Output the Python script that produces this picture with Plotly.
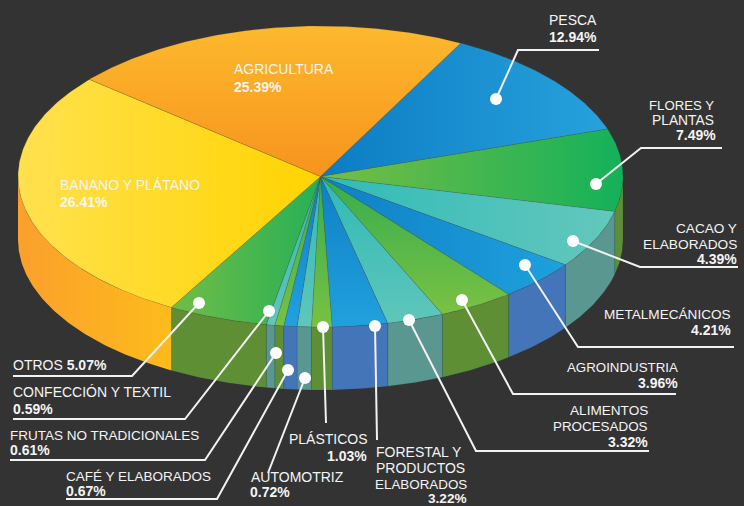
import numpy as np
import plotly.graph_objects as go

# Export shares by sector, clockwise from the top right of the pie
categories = ["PESCA", "FLORES Y PLANTAS", "CACAO Y ELABORADOS", "METALMECÁNICOS",
              "AGROINDUSTRIA", "ALIMENTOS PROCESADOS", "FORESTAL Y PRODUCTOS ELABORADOS",
              "PLÁSTICOS", "AUTOMOTRIZ", "CAFÉ Y ELABORADOS", "FRUTAS NO TRADICIONALES",
              "CONFECCIÓN Y TEXTIL", "OTROS", "BANANO Y PLÁTANO", "AGRICULTURA"]
shares = [12.94, 7.49, 4.39, 4.21, 3.96, 3.32, 3.22, 1.03, 0.72, 0.67, 0.61, 0.59, 5.07, 26.41, 25.39]

# Disc geometry in pixel-like axis units
CX, CY, RX, RY, DEPTH = 320.5, 176.5, 302.5, 150.5, 63
START_ANGLE = 27.6

# The disc is drawn with a tilted look: rim angles drift from the true sweep
TILT_KNOTS = [0, 47, 74, 89, 119, 142, 151, 155.4, 174, 269, 360]
TILT_SHIFT = [0, -2.6, 2.4, 9, 9.9, 7.9, 8.4, 7.4, 8.4, 14, 0]

BLUE = ("#0f7fc5", "#20a1dd")
TEAL = ("#2fb9b6", "#60c6bb")
GREEN = ("#34ad4f", "#78c143")
WALL_BLUE, WALL_TEAL, WALL_GREEN = "#4475b8", "#5a9790", "#5e8f35"

# (gradient direction, colour at start, colour at stop, start, stop)
top_styles = [
    ("horizontal", "#0c7cc3", "#27a2dd", 320, 610),
    ("horizontal", "#79bd43", "#14b15a", 320, 622),
    ("horizontal", "#30bbb8", "#63c7bc", 320, 610),
    ("horizontal", "#0f7fc5", "#1ea0dd", 320, 560),
    ("vertical", "#34ad4f", "#78c143", 176, 310),
    ("vertical", "#2fb9b6", "#5ec6bb", 176, 322),
    ("vertical", *BLUE, 176, 326),
    ("vertical", *GREEN, 176, 326),
    ("vertical", *TEAL, 176, 326),
    ("vertical", *BLUE, 176, 326),
    ("vertical", *GREEN, 176, 326),
    ("vertical", *TEAL, 176, 326),
    ("horizontal", "#72bd45", "#26b057", 171, 320),
    ("horizontal", "#ffe14f", "#ffd400", 18, 320),
    ("vertical", "#fdb92d", "#f7931e", 26, 176),
]
wall_styles = [WALL_BLUE, WALL_GREEN, WALL_TEAL, WALL_BLUE, WALL_GREEN, WALL_TEAL, WALL_BLUE,
               WALL_GREEN, WALL_TEAL, WALL_BLUE, WALL_GREEN, WALL_TEAL, WALL_GREEN, None, None]

# Callout paths: dot first, then the line's corner and end
leaders = [
    [(496, 99), (518, 50), (599, 50)],
    [(596, 184), (641, 148), (722, 148)],
    [(573, 241), (640, 267), (738, 267)],
    [(525, 265), (578, 347), (734, 347)],
    [(462, 300), (513, 394), (676, 394)],
    [(409, 320), (476, 451), (649, 451)],
    [(375, 326), (377, 440)],
    [(323, 327), (326, 423)],
    [(305, 378), (268, 473)],
    [(288, 370), (217, 499), (66, 499)],
    [(276, 353), (205, 460), (10, 460)],
    [(269, 311), (185, 419), (13, 419)],
    [(199, 303), (132, 376), (13, 376)],
]

# Text rows: (text, x, y, anchor, font size)
text_rows = [
    ("PESCA", 597, 20, "right", 14), ("<b>12.94%</b>", 597, 37, "right", 14),
    ("FLORES Y", 714, 105, "right", 13.2), ("PLANTAS", 714, 120, "right", 13.8), ("<b>7.49%</b>", 716, 135, "right", 14),
    ("CACAO Y", 737, 228, "right", 13.6), ("ELABORADOS", 737, 244, "right", 13.7), ("<b>4.39%</b>", 737, 259, "right", 14),
    ("METALMECÁNICOS", 731, 314, "right", 13.6), ("<b>4.21%</b>", 731, 330, "right", 14),
    ("AGROINDUSTRIA", 678, 367, "right", 13.3), ("<b>3.96%</b>", 678, 383, "right", 14),
    ("ALIMENTOS", 648, 410, "right", 13.6), ("PROCESADOS", 648, 426, "right", 13.4), ("<b>3.32%</b>", 648, 442, "right", 14),
    ("FORESTAL Y", 376, 452, "left", 14), ("PRODUCTOS", 376, 468, "left", 14), ("ELABORADOS", 375, 484, "left", 13.4),
    ("<b>3.22%</b>", 467, 498, "right", 13.6),
    ("PLÁSTICOS", 289, 439, "left", 14), ("<b>1.03%</b>", 367, 456, "right", 14),
    ("AUTOMOTRIZ", 251, 477, "left", 14), ("<b>0.72%</b>", 250, 492, "left", 14),
    ("CAFÉ Y ELABORADOS", 66, 476, "left", 13.5), ("<b>0.67%</b>", 66, 491, "left", 14),
    ("FRUTAS NO TRADICIONALES", 10, 435, "left", 13.5), ("<b>0.61%</b>", 10, 450, "left", 14),
    ("CONFECCIÓN Y TEXTIL", 13, 392, "left", 14), ("<b>0.59%</b>", 13, 409, "left", 14),
    ("OTROS <b>5.07%</b>", 13, 365, "left", 14),
    ("BANANO Y PLÁTANO", 60, 185, "left", 14), ("<b>26.41%</b>", 60, 202, "left", 14),
    ("AGRICULTURA", 234, 69, "left", 14), ("<b>25.39%</b>", 234, 87, "left", 14),
]


def rim_angle(sweep):
    """Screen angle, clockwise from the top, for a true sweep in degrees."""
    return START_ANGLE + sweep + np.interp(sweep, TILT_KNOTS, TILT_SHIFT)


def rim_points(a0, a1, drop=0.0):
    n = max(int(abs(a1 - a0) * 2), 2)
    t = np.radians(np.linspace(a0, a1, n))
    return CX + RX * np.sin(t), CY - RY * np.cos(t) + drop


fig = go.Figure()
scale = 360.0 / sum(shares)
edges = np.concatenate([[0.0], np.cumsum(shares) * scale])
angles = [float(rim_angle(e)) for e in edges]

# Side wall: only the part of each slice on the near half of the rim
for i, colour in enumerate(wall_styles):
    if colour is None:
        continue
    a0, a1 = max(angles[i], 90.0), min(angles[i + 1], 270.0)
    if a1 <= a0:
        continue
    xt, yt = rim_points(a0, a1)
    xb, yb = rim_points(a1, a0, DEPTH)
    fig.add_trace(go.Scatter(
        x=np.r_[xt, xb, xt[0]], y=np.r_[yt, yb, yt[0]], mode="lines", fill="toself",
        fillcolor=colour, line=dict(color="rgba(40,60,80,0.25)", width=0.6), hoverinfo="skip"))

# The banana wall fades from amber to golden towards the front
a0, a1 = angles[13], 270.0
xt, yt = rim_points(a0, a1)
xb, yb = rim_points(a1, a0, DEPTH)
fig.add_trace(go.Scatter(
    x=np.r_[xt, xb, xt[0]], y=np.r_[yt, yb, yt[0]], mode="lines", fill="toself",
    line=dict(width=0, color="#fdb81c"), hoverinfo="skip",
    fillgradient=dict(type="horizontal", colorscale=[[0, "#fba02c"], [1, "#fdbb1b"]], start=18, stop=171)))

# Top face of every slice
for i, (kind, c0, c1, g0, g1) in enumerate(top_styles):
    xr, yr = rim_points(angles[i], angles[i + 1])
    fig.add_trace(go.Scatter(
        x=np.r_[CX, xr, CX], y=np.r_[CY, yr, CY], mode="lines", fill="toself",
        line=dict(color="rgba(70,70,50,0.30)", width=0.6), hoverinfo="skip",
        fillgradient=dict(type=kind, colorscale=[[0, c0], [1, c1]], start=g0, stop=g1)))

# Callout lines and their dots
for path in leaders:
    xs, ys = zip(*path)
    fig.add_trace(go.Scatter(x=xs, y=ys, mode="lines", line=dict(color="#f2f2f2", width=2),
                             hoverinfo="skip"))
    fig.add_trace(go.Scatter(x=xs[:1], y=ys[:1], mode="markers", hoverinfo="skip",
                             marker=dict(color="white", size=12, line=dict(width=0))))

for text, x, y, anchor, size in text_rows:
    fig.add_annotation(x=x, y=y, text=text, xanchor=anchor, yanchor="middle", showarrow=False,
                       xref="x", yref="y", borderpad=0, borderwidth=0,
                       font=dict(family="Liberation Sans, Arial, sans-serif", size=size, color="#f4f4f4"))

fig.update_layout(
    width=744, height=506, margin=dict(l=0, r=0, t=0, b=0), showlegend=False,
    paper_bgcolor="#333333", plot_bgcolor="#333333",
    xaxis=dict(range=[0, 744], visible=False, fixedrange=True),
    yaxis=dict(range=[506, 0], visible=False, fixedrange=True),
)
fig.write_html("out.html", config={"displayModeBar": False})
